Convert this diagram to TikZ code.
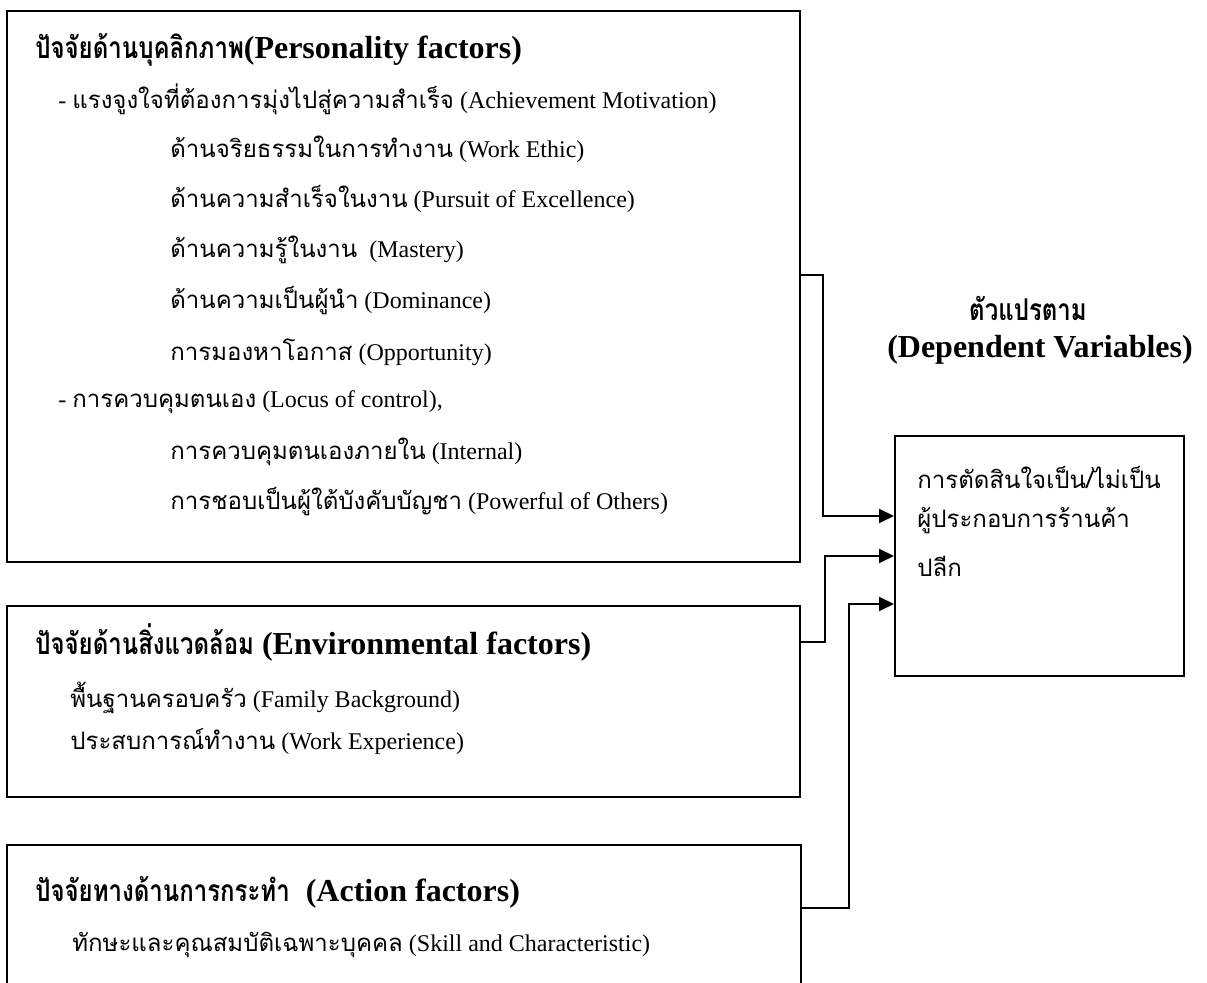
\documentclass[tikz,border=0pt]{standalone}
\usepackage{fontspec}
\setmainfont{Liberation Serif}
\newfontfamily\thai[Script=Thai]{Loma}
\newfontfamily\thainarrow[Script=Thai, FakeStretch=0.8]{Loma}
\usetikzlibrary{arrows.meta,positioning}

\newcommand{\thaihead}[1]{{\thainarrow\fontsize{15}{18}\selectfont #1}}

\tikzset{
  factorbox/.style={draw, line width=1pt, inner sep=0pt},
  itemtext/.style={anchor=west, inner sep=0pt, font=\fontsize{12}{14}\selectfont},
  headtext/.style={anchor=west, inner sep=0pt, font=\fontsize{16}{19}\selectfont\bfseries},
  deptext/.style={anchor=west, inner sep=0pt, font=\thai\fontsize{12}{14}\selectfont},
  link/.style={line width=1pt, -{Triangle[length=7.5pt,width=7pt]}}
}

\begin{document}
\begin{tikzpicture}[x=0.5pt, y=-0.5pt, line cap=rect, line join=miter]
  \clip (0,0) rectangle (1207,983);

  % Boxes
  \node[factorbox, minimum width=396.5pt, minimum height=275.5pt] (pers) at (403.5,286.5) {};
  \node[factorbox, minimum width=396.5pt, minimum height=95.5pt]  (env)  at (403.5,701.5) {};
  \node[factorbox, minimum width=397pt,   minimum height=82.5pt]  (act)  at (404,927.5) {};
  \node[factorbox, minimum width=144.5pt, minimum height=120pt]   (dep)  at (1039.5,556) {};

  % Personality factors
  \node[headtext] (p0) at (35,50)  {\thaihead{ปัจจัยด้านบุคลิกภาพ}(Personality factors)};
  \node[itemtext] (p1) at (58,99)  {- {\thai แรงจูงใจที่ต้องการมุ่งไปสู่ความสำเร็จ} (Achievement Motivation)};
  \node[itemtext] (p2) at (170,149) {{\thai ด้านจริยธรรมในการทำงาน} (Work Ethic)};
  \node[itemtext] (p3) at (170,199) {{\thai ด้านความสำเร็จในงาน} (Pursuit of Excellence)};
  \node[itemtext] (p4) at (170,250) {{\thai ด้านความรู้ในงาน}\ \ (Mastery)};
  \node[itemtext] (p5) at (170,301) {{\thai ด้านความเป็นผู้นำ} (Dominance)};
  \node[itemtext] (p6) at (170,352) {{\thai การมองหาโอกาส} (Opportunity)};
  \node[itemtext] (p7) at (58,402)  {- {\thai การควบคุมตนเอง} (Locus of control),};
  \node[itemtext] (p8) at (170,452) {{\thai การควบคุมตนเองภายใน} (Internal)};
  \node[itemtext] (p9) at (170,502) {{\thai การชอบเป็นผู้ใต้บังคับบัญชา} (Powerful of Others)};

  % Environmental factors
  \node[headtext] (e0) at (35,642) {\thaihead{ปัจจัยด้านสิ่งแวดล้อม} (Environmental factors)};
  \node[itemtext] (e1) at (70,698) {{\thai พื้นฐานครอบครัว} (Family Background)};
  \node[itemtext] (e2) at (70,742) {{\thai ประสบการณ์ทำงาน} (Work Experience)};

  % Action factors
  \node[headtext] (a0) at (35,892) {\thaihead{ปัจจัยทางด้านการกระทำ}\ \ (Action factors)};
  \node[itemtext] (a1) at (72,945) {{\thai ทักษะและคุณสมบัติเฉพาะบุคคล} (Skill and Characteristic)};

  % Dependent variable
  \node[headtext, anchor=center] (d0) at (1028,308) {\thaihead{ตัวแปรตาม}};
  \node[headtext, anchor=center] (d1) at (1040,350) {(Dependent Variables)};
  \node[deptext] (d2) at (917,477) {การตัดสินใจเป็น/ไม่เป็น};
  \node[deptext] (d3) at (917,521) {ผู้ประกอบการร้านค้า};
  \node[deptext] (d4) at (917,566) {ปลีก};

  % Connectors
  \coordinate (c1) at (823,275);
  \coordinate (c2) at (825,642);
  \coordinate (c3) at (849,908);
  \draw[link] (pers.east |- c1) -- (c1) |- ([yshift=20pt]dep.west);
  \draw[link] (env.east |- c2) -- (c2) |- (dep.west);
  \draw[link] (act.east |- c3) -- (c3) |- ([yshift=-24pt]dep.west);
\end{tikzpicture}
\end{document}
